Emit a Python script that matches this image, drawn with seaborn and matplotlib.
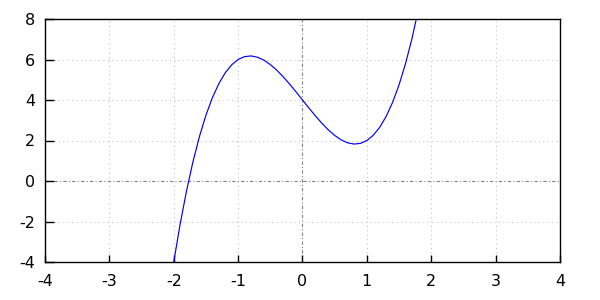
import matplotlib
matplotlib.use("Agg")
import matplotlib.pyplot as plt
import seaborn as sns
import pandas as pd

x_vals = [-2.0, -1.9, -1.8, -1.7, -1.6, -1.5, -1.4, -1.3, -1.2, -1.1, -1.0,
          -0.9, -0.8, -0.7, -0.6, -0.5, -0.4, -0.3, -0.2, -0.1, 0.0,
          0.1, 0.2, 0.3, 0.4, 0.5, 0.6, 0.7, 0.8, 0.9, 1.0,
          1.1, 1.2, 1.3, 1.4, 1.5, 1.6, 1.7, 1.8]
y_vals = [-4.0, -2.118, -0.464, 0.974, 2.208, 3.25, 4.112, 4.806, 5.344, 5.738, 6.0,
          6.142, 6.176, 6.114, 5.968, 5.75, 5.472, 5.146, 4.784, 4.398, 4.0,
          3.602, 3.216, 2.854, 2.528, 2.25, 2.032, 1.886, 1.824, 1.858, 2.0,
          2.262, 2.656, 3.194, 3.888, 4.75, 5.792, 7.026, 8.464]
x_ticks = [-4, -3, -2, -1, 0, 1, 2, 3, 4]
y_ticks = [-4, -2, 0, 2, 4, 6, 8]

sns.set_style("white")
plt.rcParams['font.family'] = ['DejaVu Sans']

fig = plt.figure(figsize=(6, 3), dpi=100)
ax = fig.add_axes([45/600, 1-262/300, (560-45)/600, (262-19)/300])

df = pd.DataFrame({"x": x_vals, "y": y_vals})

ax.set_xlim(-4, 4)
ax.set_ylim(-4, 8)
ax.set_xticks(x_ticks)
ax.set_yticks(y_ticks)
ax.set_xticklabels([str(t) for t in x_ticks])
ax.set_yticklabels([str(t) for t in y_ticks])

for t in x_ticks[1:-1]:
    if t != 0:
        ax.axvline(t, color="#c8c8c8", lw=0.8, ls=(0, (1, 3)), zorder=0)
for t in y_ticks[1:-1]:
    if t != 0:
        ax.axhline(t, color="#c8c8c8", lw=0.8, ls=(0, (1, 3)), zorder=0)
ax.axhline(0, color="#808080", lw=0.8, ls=(0, (3, 2, 1, 2)), zorder=0)
ax.axvline(0, color="#808080", lw=0.8, ls=(0, (3, 2, 1, 2)), zorder=0)

sns.lineplot(data=df, x="x", y="y", ax=ax, color="#0000ff", lw=0.85,
             sort=False, estimator=None)

ax.set_xlabel("")
ax.set_ylabel("")
for s in ax.spines.values():
    s.set_color("black")
    s.set_linewidth(1.0)
    s.set_visible(True)
ax.tick_params(direction="in", width=1.0, colors="black",
               labelsize=11.5, bottom=True, left=True, top=False, right=False)
ax.tick_params(axis="x", pad=9, length=5)
ax.tick_params(axis="y", pad=7, length=6.5)

fig.savefig("out.png", dpi=100)
